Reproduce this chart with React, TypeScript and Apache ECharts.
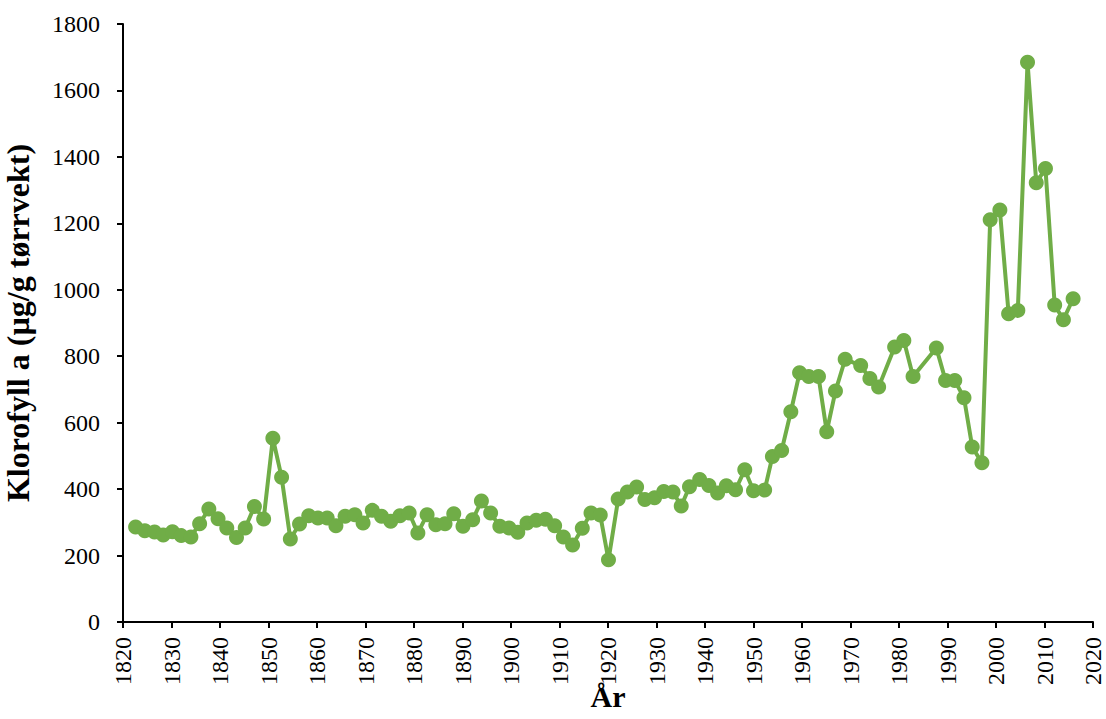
import React, { useEffect, useRef } from "react";
import * as echarts from "echarts";

const years: number[] = [
  1822.6, 1824.5, 1826.5, 1828.3, 1830.2, 1832.0, 1834.0, 1835.8, 1837.7, 1839.6,
  1841.4, 1843.4, 1845.2, 1847.1, 1849.0, 1850.9, 1852.7, 1854.5, 1856.4, 1858.3,
  1860.2, 1862.1, 1863.9, 1865.8, 1867.8, 1869.5, 1871.4, 1873.3, 1875.2, 1877.1,
  1879.0, 1880.8, 1882.7, 1884.5, 1886.4, 1888.2, 1890.1, 1892.1, 1893.9, 1895.8,
  1897.7, 1899.6, 1901.4, 1903.3, 1905.2, 1907.1, 1909.0, 1910.8, 1912.7, 1914.7,
  1916.5, 1918.4, 1920.1, 1922.1, 1924.0, 1925.9, 1927.6, 1929.6, 1931.5, 1933.4,
  1935.1, 1936.8, 1938.9, 1940.8, 1942.6, 1944.4, 1946.3, 1948.2, 1950.0, 1952.3,
  1953.9, 1955.8, 1957.7, 1959.5, 1961.4, 1963.4, 1965.1, 1966.9, 1968.9, 1972.1,
  1974.0, 1975.8, 1979.1, 1981.0, 1982.9, 1987.7, 1989.6, 1991.5, 1993.4, 1995.1,
  1997.1, 1998.8, 2000.8, 2002.6, 2004.5, 2006.5, 2008.3, 2010.2, 2012.1, 2013.9,
  2015.9,
];

const chlorophyll: number[] = [
  286, 275, 271, 262, 272, 260, 256, 296, 340, 311,
  283, 254, 283, 348, 310, 553, 436, 250, 295, 320,
  313, 313, 290, 318, 323, 298, 336, 318, 303, 320,
  328, 268, 323, 293, 296, 326, 288, 308, 364, 328,
  288, 283, 270, 298, 306, 309, 290, 256, 232, 282,
  328, 322, 187, 370, 391, 406, 369, 374, 393, 391,
  349, 407, 429, 411, 388, 410, 398, 458, 395, 397,
  498, 516, 633, 750, 739, 739, 573, 695, 791, 772,
  733, 707, 828, 847, 739, 825, 727, 727, 675, 527,
  479, 1211, 1240, 928, 938, 1685, 1322, 1365, 954, 910,
  973,
];

const xTitle = "År";
const yTitle = "Klorofyll a (µg/g tørrvekt)";

export default function App() {
  const ref = useRef<HTMLDivElement>(null);
  useEffect(() => {
    if (!ref.current) return;
    const chart = echarts.init(ref.current, undefined, {
      renderer: "svg",
      width: 1106,
      height: 719,
    });
    const font = "'Liberation Serif', 'Times New Roman', serif";
    chart.setOption({
      animation: false,
      backgroundColor: "#ffffff",
      grid: {
        left: 123,
        right: 13,
        top: 24,
        bottom: 97,
        containLabel: false,
        outerBoundsMode: "none",
      },
      xAxis: {
        type: "value",
        min: 1820,
        max: 2020,
        interval: 10,
        name: xTitle,
        nameLocation: "middle",
        nameGap: 59,
        nameMoveOverlap: false,
        nameTextStyle: { fontFamily: font, fontSize: 30, fontWeight: "bold", color: "#000" },
        axisLine: { show: true, onZero: false, lineStyle: { color: "#000", width: 2 } },
        axisTick: { show: true, length: 6, lineStyle: { color: "#000", width: 2 } },
        axisLabel: {
          rotate: 90,
          fontFamily: font,
          fontSize: 24,
          color: "#000",
          margin: 15,
          formatter: (v: number) => String(v),
        },
        splitLine: { show: false },
      },
      yAxis: {
        type: "value",
        min: 0,
        max: 1800,
        interval: 200,
        name: yTitle,
        nameLocation: "middle",
        nameGap: 89,
        nameMoveOverlap: false,
        nameTextStyle: { fontFamily: font, fontSize: 32, fontWeight: "bold", color: "#000" },
        axisLine: { show: true, lineStyle: { color: "#000", width: 2 } },
        axisTick: { show: true, length: 6, lineStyle: { color: "#000", width: 2 } },
        axisLabel: {
          fontFamily: font,
          fontSize: 24,
          color: "#000",
          margin: 23,
          formatter: (v: number) => String(v),
        },
        splitLine: { show: false },
      },
      series: [
        {
          type: "line",
          data: years.map((y, i) => [y, chlorophyll[i]]),
          symbol: "circle",
          symbolSize: 15,
          showAllSymbol: true,
          itemStyle: { color: "#70AD47" },
          lineStyle: { color: "#70AD47", width: 4 },
        },
      ],
    });
    return () => chart.dispose();
  }, []);
  return (
    <div
      ref={ref}
      style={{ position: "absolute", left: 0, top: 0, width: 1106, height: 719 }}
    />
  );
}
